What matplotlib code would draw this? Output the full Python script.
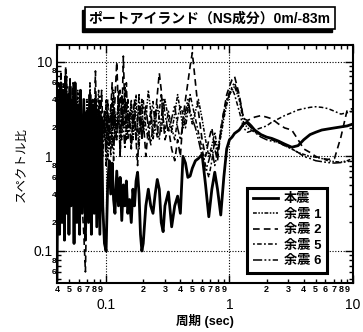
import matplotlib
matplotlib.use("Agg")
import matplotlib.pyplot as plt
from matplotlib.patches import Rectangle
from matplotlib.ticker import LogLocator, FixedLocator, FuncFormatter
import numpy as np

plt.rcParams['font.family'] = ['Liberation Sans', 'Noto Sans CJK JP', 'DejaVu Sans']

# Period axis (sec)
period = [
    # 0.04 - 0.15
    0.040, 0.041, 0.042, 0.043, 0.044, 0.045, 0.046, 0.047, 0.048, 0.049,
    0.050, 0.051, 0.052, 0.054, 0.055, 0.056, 0.058, 0.059, 0.061, 0.062,
    0.064, 0.066, 0.068, 0.070, 0.072, 0.074, 0.076, 0.078, 0.080, 0.082,
    0.084, 0.087, 0.089, 0.092, 0.094, 0.097, 0.100, 0.103, 0.106, 0.109,
    0.112, 0.115, 0.118, 0.122, 0.126, 0.130, 0.134, 0.138, 0.142, 0.146,
    0.150,
    # 0.155 - 1.0
    0.155, 0.16, 0.165, 0.17, 0.175, 0.18, 0.185, 0.19, 0.195, 0.20,
    0.21, 0.22, 0.23, 0.24, 0.25, 0.26, 0.27, 0.28, 0.29, 0.30,
    0.32, 0.34, 0.36, 0.38, 0.40, 0.42, 0.44, 0.46, 0.48, 0.50,
    0.53, 0.56, 0.60, 0.64, 0.68, 0.72, 0.76, 0.80, 0.85, 0.90, 0.95, 1.00,
    # 1.05 - 10
    1.05, 1.1, 1.2, 1.3, 1.4, 1.5, 1.6, 1.8, 2.0, 2.2, 2.5, 2.8,
    3.2, 3.6, 4.0, 4.5, 5.0, 5.6, 6.3, 7.1, 8.0, 9.0, 10.0,
]

main_shock = [
    0.05, 4.0, 0.15, 6.0, 0.2, 5.0, 0.13, 7.0, 0.25, 4.5,
    0.15, 5.5, 0.3, 4.0, 0.12, 6.0, 0.2, 3.5, 0.15, 5.0,
    0.25, 4.0, 0.13, 3.0, 0.2, 4.5, 0.15, 3.5, 0.25, 4.0,
    0.18, 3.0, 0.15, 2.5, 0.3, 0.12, 0.1, 0.5, 0.9, 0.4,
    0.85, 0.35, 0.25, 0.7, 0.3, 0.6, 0.21, 0.5, 0.3, 0.55,
    0.25,
    0.35, 0.2, 0.45, 0.3, 0.55, 0.68, 0.4, 0.15, 0.1, 0.12,
    0.3, 0.45, 0.3, 0.25, 0.4, 0.57, 0.45, 0.2, 0.16, 0.3,
    0.42, 0.18, 0.3, 0.38, 0.25, 1.0, 0.85, 0.6, 0.62, 0.75,
    0.9, 0.95, 1.05, 0.5, 0.23, 0.45, 0.68, 0.45, 0.24, 0.6, 1.2, 1.5,
    1.6, 1.75, 1.9, 2.2, 2.3, 2.1, 1.9, 1.7, 1.6, 1.55, 1.45, 1.35,
    1.25, 1.3, 1.5, 1.7, 1.8, 1.9, 1.95, 2.0, 2.05, 2.1, 2.2,
]

aftershock_1 = [
    1.0, 4.0, 0.7, 3.0, 1.5, 6.0, 0.9, 2.5, 0.5, 3.5,
    1.2, 2.0, 0.6, 4.5, 1.0, 2.5, 1.8, 5.0, 0.7, 2.0,
    1.2, 3.0, 0.8, 4.0, 1.5, 2.5, 0.6, 3.0, 1.0, 4.5,
    2.0, 1.0, 3.0, 0.7, 2.5, 1.5, 4.0, 0.9, 2.0, 3.5,
    1.2, 5.0, 1.5, 2.5, 4.0, 1.0, 3.0, 2.0, 5.5, 1.5,
    3.0,
    2.0, 3.5, 1.5, 2.5, 4.5, 2.0, 1.2, 2.8, 4.0, 1.8,
    2.5, 5.0, 3.0, 1.5, 2.2, 3.5, 2.5, 1.8, 3.0, 4.0,
    2.5, 1.8, 2.8, 4.5, 3.0, 2.0, 2.5, 3.5, 2.8, 2.2,
    3.0, 4.0, 2.5, 1.5, 1.0, 1.3, 1.8, 1.2, 1.6, 2.5, 3.5, 4.5,
    5.0, 5.5, 4.0, 2.3, 2.0, 1.9, 1.8, 1.7, 1.6, 1.5, 1.4, 1.3,
    1.2, 1.1, 1.05, 1.0, 0.98, 0.95, 0.9, 0.88, 0.87, 0.9, 0.95,
]

aftershock_2 = [
    2.0, 6.0, 1.0, 8.0, 1.5, 5.0, 0.8, 9.0, 2.0, 4.0,
    1.0, 7.0, 2.5, 6.0, 1.2, 4.0, 0.6, 3.0, 1.0, 5.0,
    0.3, 0.15, 0.06, 0.5, 2.0, 5.0, 1.0, 4.0, 2.0, 8.0,
    1.5, 3.5, 1.0, 5.0, 2.0, 3.0, 1.2, 4.0, 1.5, 3.0,
    6.0, 2.0, 4.0, 10.0, 3.0, 5.0, 2.0, 11.5, 3.0, 6.0,
    2.0,
    3.0, 1.2, 2.5, 4.0, 1.5, 0.8, 2.0, 3.5, 1.5, 2.5,
    1.0, 2.0, 3.0, 1.8, 2.5, 4.5, 7.6, 5.0, 2.5, 1.5,
    2.0, 1.2, 0.9, 1.5, 1.0, 2.5, 4.0, 6.0, 9.0, 12.5,
    6.0, 3.0, 1.5, 1.0, 1.5, 2.0, 1.2, 0.9, 1.8, 3.0, 4.5, 5.5,
    6.5, 7.0, 4.5, 2.5, 2.4, 2.5, 2.6, 2.7, 2.6, 2.5, 2.2, 2.0,
    1.9, 1.5, 1.2, 1.1, 1.0, 0.95, 0.93, 0.95, 1.6, 3.1, 3.2,
]

aftershock_5 = [
    3.0, 0.8, 5.0, 1.5, 2.5, 0.6, 4.0, 1.2, 7.0, 1.0,
    2.0, 0.5, 3.5, 1.5, 6.0, 1.0, 2.5, 0.8, 4.0, 2.0,
    1.0, 3.5, 1.5, 2.5, 0.7, 6.0, 1.5, 2.0, 3.5, 1.0,
    2.5, 5.0, 1.5, 3.0, 1.0, 2.0, 3.5, 1.5, 2.5, 1.0,
    4.0, 2.0, 3.0, 1.5, 5.0, 2.5, 1.5, 4.0, 2.0, 3.5,
    1.5,
    2.5, 4.0, 2.0, 3.0, 1.5, 2.2, 3.5, 1.8, 2.5, 4.0,
    2.0, 1.5, 2.5, 3.8, 2.0, 1.6, 3.0, 4.5, 2.5, 1.8,
    3.0, 2.0, 1.5, 2.5, 3.5, 2.8, 2.0, 3.0, 4.5, 3.5,
    2.5, 1.8, 1.2, 0.8, 0.6, 0.9, 1.5, 1.0, 2.0, 3.0, 4.0, 4.8,
    5.2, 4.5, 3.0, 2.0, 1.8, 1.85, 1.9, 2.0, 2.1, 2.3, 2.5, 2.7,
    2.9, 3.1, 3.2, 3.3, 3.35, 3.3, 3.2, 3.0, 2.8, 2.9, 3.0,
]

aftershock_6 = [
    5.0, 1.0, 2.0, 0.5, 3.0, 1.5, 0.8, 5.5, 1.2, 2.5,
    0.4, 3.0, 1.0, 2.0, 0.7, 4.0, 1.0, 1.8, 3.5, 0.6,
    2.0, 1.0, 3.0, 1.5, 0.5, 2.5, 4.0, 1.0, 2.0, 0.8,
    3.0, 1.5, 4.5, 1.0, 1.8, 2.5, 0.8, 3.0, 1.2, 2.0,
    3.0, 0.9, 2.5, 1.5, 3.5, 1.0, 4.5, 2.0, 1.2, 2.8,
    4.0,
    2.0, 1.2, 3.0, 2.0, 1.5, 2.5, 4.5, 2.5, 1.5, 2.0,
    3.5, 2.0, 1.3, 2.2, 3.0, 2.0, 1.5, 2.5, 4.0, 2.8,
    1.8, 2.5, 3.5, 2.0, 1.5, 2.2, 3.0, 4.0, 3.0, 2.5,
    2.0, 1.5, 1.0, 0.7, 0.9, 1.2, 0.8, 1.1, 1.8, 2.8, 3.8, 4.5,
    5.5, 6.0, 4.2, 2.6, 2.2, 2.0, 1.8, 1.6, 1.5, 1.45, 1.4, 1.3,
    1.2, 1.1, 1.0, 0.95, 0.9, 0.88, 0.86, 0.85, 0.86, 0.88, 0.9,
]

series_labels = ['本震', '余震 1', '余震 2', '余震 5', '余震 6']
title_text = 'ポートアイランド（NS成分）0m/-83m'
x_label = '周期 (sec)'
y_label = 'スペクトル比'

fig = plt.figure(figsize=(3.63, 3.32), dpi=100)
ax = fig.add_axes([0.157, 0.148, 0.815, 0.716])

styles = [
    dict(color='black', lw=2.0, ls='-'),
    dict(color='black', lw=1.1, ls=(0, (2.5, 1, 1, 1, 1, 1))),
    dict(color='black', lw=1.2, ls=(0, (4, 2.5))),
    dict(color='black', lw=1.1, ls=(0, (1.2, 1.5, 3, 1.5))),
    dict(color='black', lw=1.1, ls=(0, (6, 1.5, 1.2, 1.5, 1.2, 1.5))),
]
series = [main_shock, aftershock_1, aftershock_2, aftershock_5, aftershock_6]
handles = []
for vals, lab, st in zip(series, series_labels, styles):
    h, = ax.plot(period, vals, label=lab, **st)
    handles.append(h)

ax.set_xscale('log')
ax.set_yscale('log')
ax.set_xlim(0.04, 10)
ax.set_ylim(0.046, 15)

# major grid as dotted lines
ax.grid(True, which='major', ls=(0, (1, 1.5)), lw=0.8, color='black')

# ticks
ax.xaxis.set_major_locator(FixedLocator([0.1, 1, 10]))
ax.xaxis.set_minor_locator(LogLocator(base=10, subs=np.arange(2, 10)))
ax.yaxis.set_major_locator(FixedLocator([0.1, 1, 10]))
ax.yaxis.set_minor_locator(LogLocator(base=10, subs=np.arange(2, 10)))

def major_fmt(v, pos):
    return {0.1: '0.1', 1: '1', 10: '10'}.get(round(v, 6), '')

def x_minor_fmt(v, pos):
    d = v / 10 ** np.floor(np.log10(v) + 1e-9)
    return '%d' % round(d)

def y_minor_fmt(v, pos):
    d = round(v / 10 ** np.floor(np.log10(v) + 1e-9))
    return '%d' % d if d in (2, 4, 6, 8) else ''

ax.xaxis.set_major_formatter(FuncFormatter(major_fmt))
ax.yaxis.set_major_formatter(FuncFormatter(major_fmt))
ax.xaxis.set_minor_formatter(FuncFormatter(x_minor_fmt))
ax.yaxis.set_minor_formatter(FuncFormatter(y_minor_fmt))

ax.tick_params(which='both', direction='in', top=True, right=True, width=1.0, color='black')
ax.tick_params(which='major', length=6)
ax.tick_params(which='minor', length=3)
ax.tick_params(axis='x', which='major', pad=11, labelsize=10)
ax.tick_params(axis='x', which='minor', pad=1.5, labelsize=6.5)
ax.tick_params(axis='y', which='major', pad=3.5, labelsize=10)
ax.tick_params(axis='y', which='minor', pad=0.5, labelsize=6)
for lbl in ax.xaxis.get_minorticklabels() + ax.yaxis.get_minorticklabels():
    lbl.set_fontweight('bold')

for sp in ax.spines.values():
    sp.set_linewidth(1.5)

ax.set_xlabel(x_label, fontsize=9, fontweight='bold', labelpad=1)
ax.set_ylabel(y_label, fontsize=9, labelpad=4)

leg = ax.legend(handles=handles, loc='lower right', bbox_to_anchor=(0.935, 0.015),
                frameon=True, fancybox=False, edgecolor='black', framealpha=1,
                prop=dict(size=9.5, weight='bold'), handlelength=1.9,
                handletextpad=0.5, labelspacing=0.25, borderpad=0.4)
leg.get_frame().set_linewidth(2.2)

# title box, with a drop shadow drawn behind it
title = fig.text(0.578, 0.945, title_text, ha='center', va='center', fontsize=10,
                 fontweight='bold', color='black', zorder=5,
                 bbox=dict(boxstyle='square,pad=0.3', fc='white', ec='black', lw=1.2))
fig.canvas.draw()
bb = title.get_bbox_patch().get_window_extent().transformed(fig.transFigure.inverted())
dx, dy = -3 / 363, -3 / 332
fig.patches.append(Rectangle((bb.x0 + dx, bb.y0 + dy), bb.width, bb.height,
                             transform=fig.transFigure, fc='black', ec='black',
                             zorder=4))

fig.savefig('out.png', dpi=100)
